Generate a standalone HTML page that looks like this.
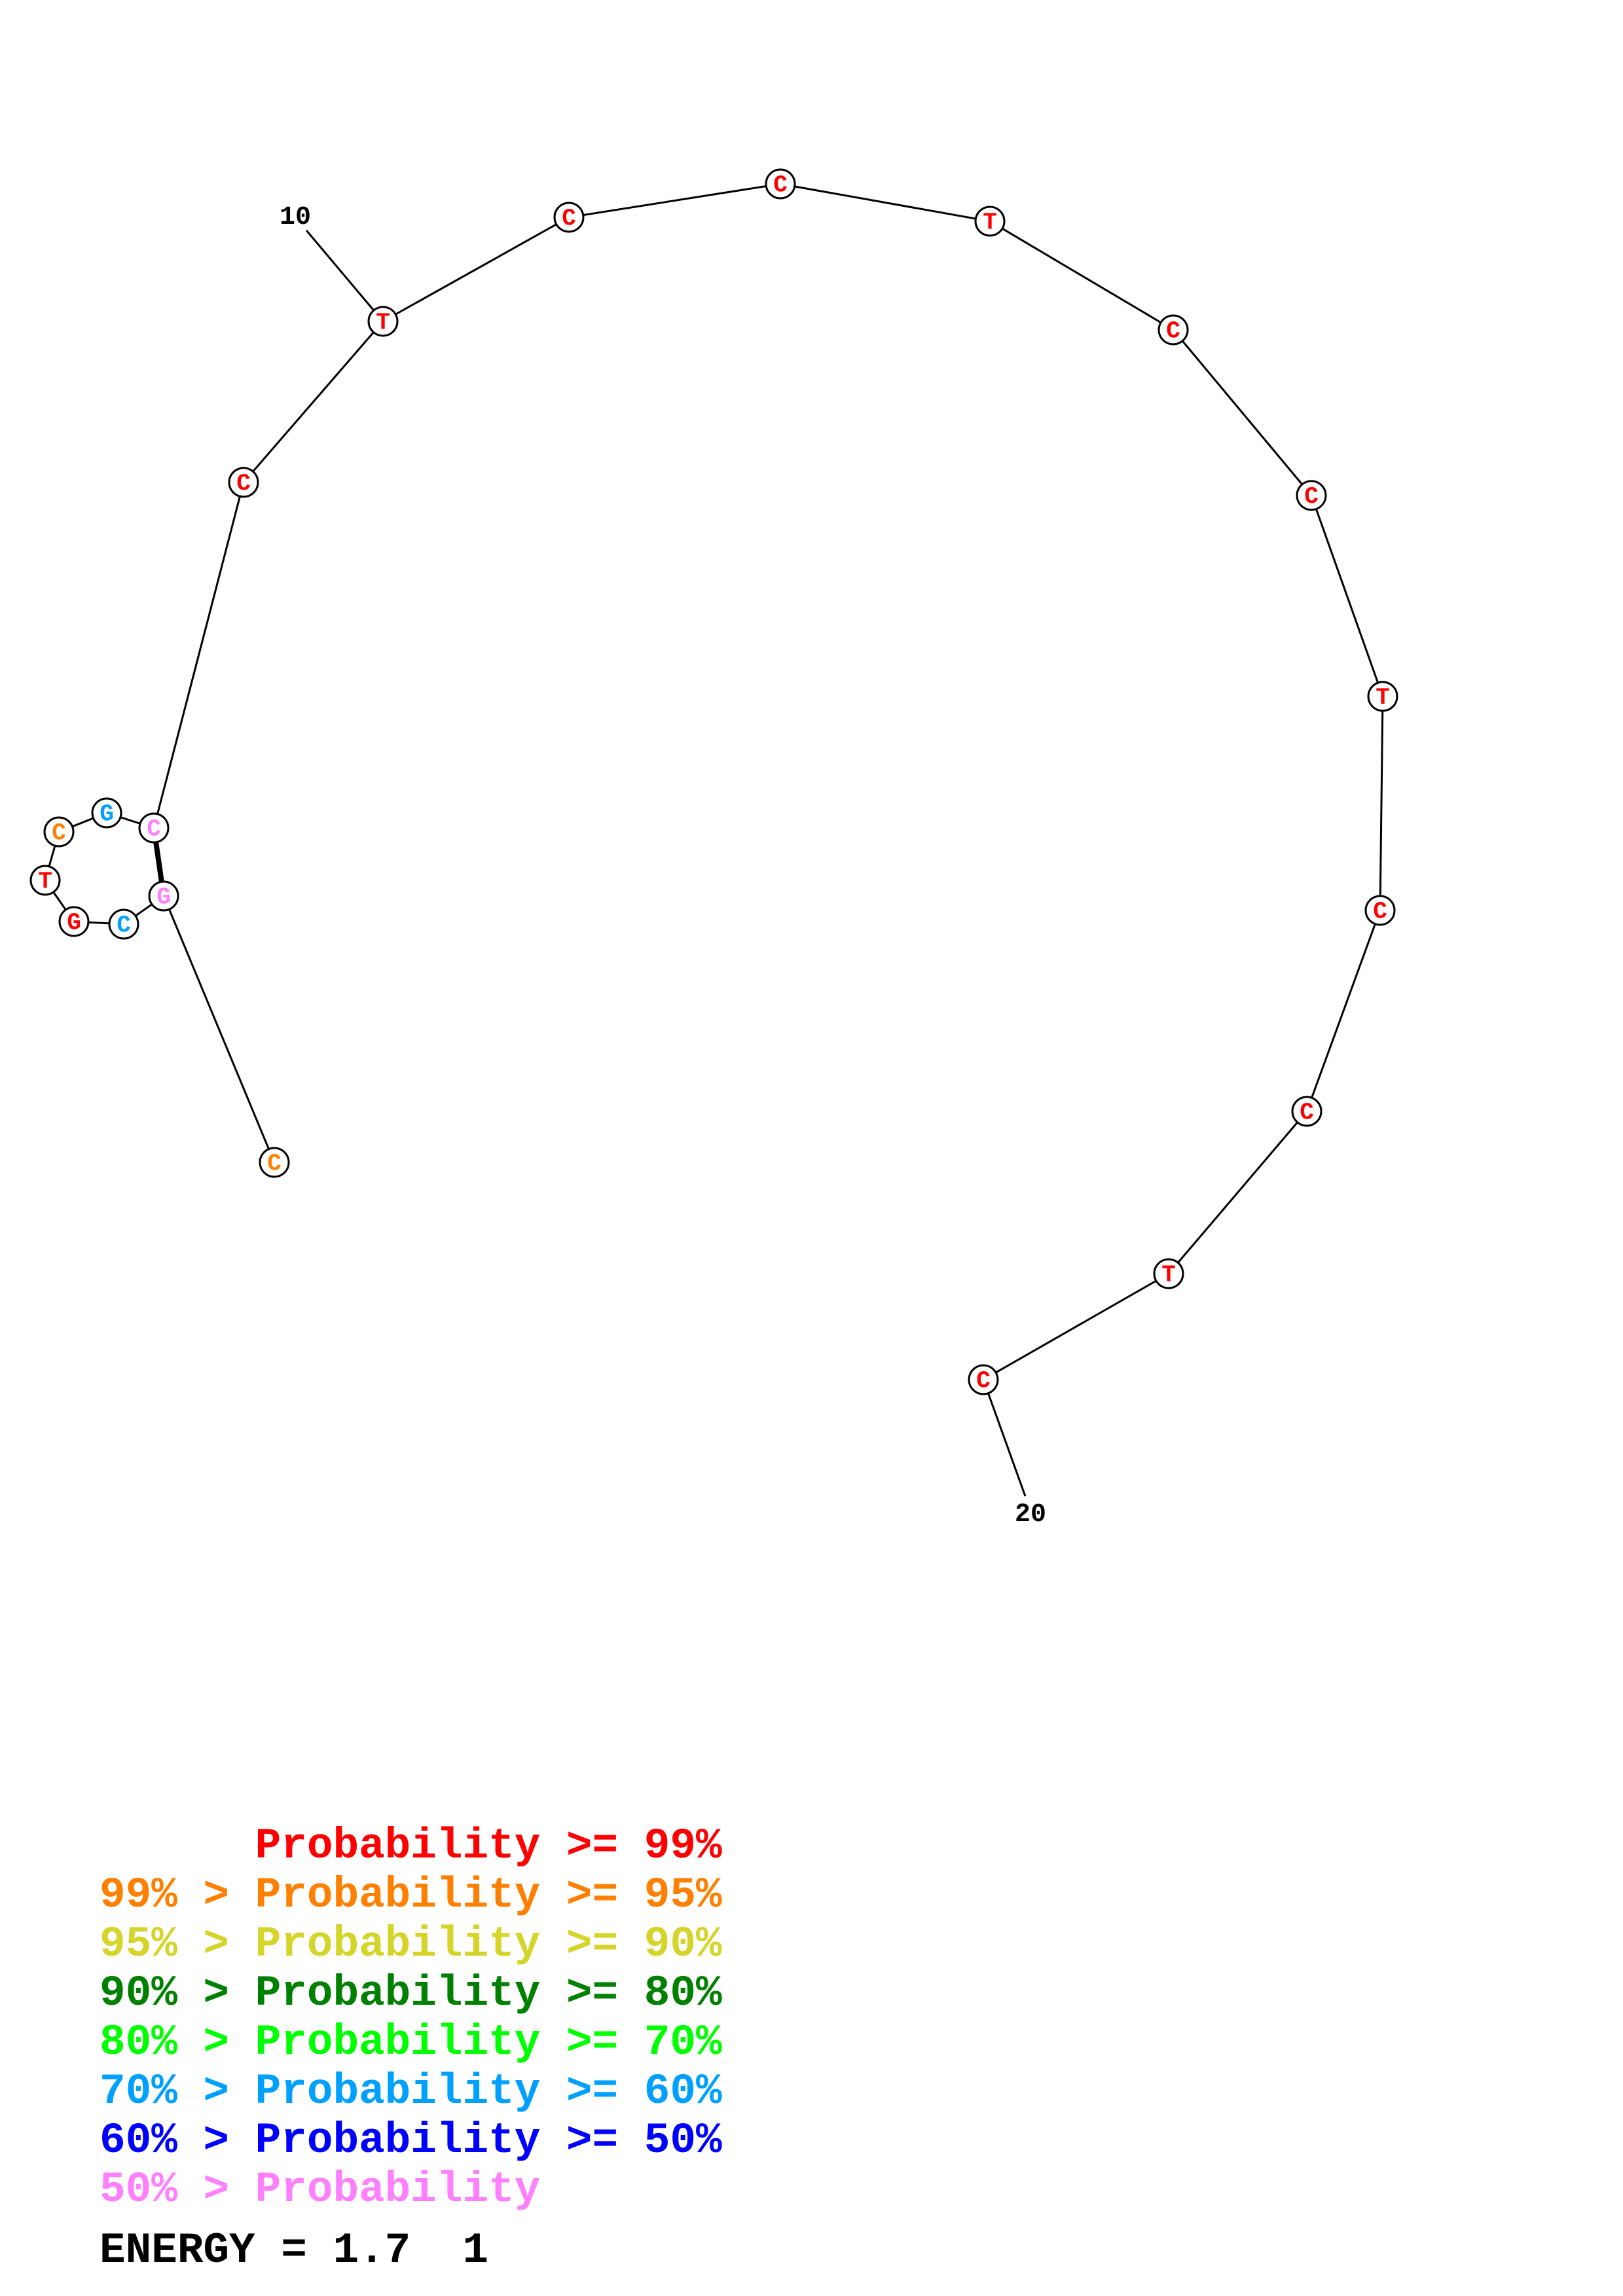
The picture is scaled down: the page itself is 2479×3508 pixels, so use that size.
<!DOCTYPE html>
<html><head><meta charset="utf-8"><style>
html,body{margin:0;padding:0;background:#fff}
svg{display:block}
.n{font-family:"Liberation Mono",monospace;font-weight:bold;font-size:36px;text-anchor:middle;dominant-baseline:central}
.l text{font-family:"Liberation Mono",monospace;font-weight:bold;font-size:66px;white-space:pre}
</style></head><body>
<svg width="2479" height="3508" viewBox="0 0 2479 3508" xmlns="http://www.w3.org/2000/svg">
<g stroke="#000" stroke-width="3" fill="none">
<polyline points="419,1776 250,1369 189,1412 113,1408 69,1345 90,1271 163,1242 235,1265 372,737 585,491 869,332 1192,281 1512,338 1792,504 2003,757 2112,1064 2108,1391 1996,1698 1785,1946 1502,2108 1566,2286"/>
<line x1="585" y1="491" x2="468" y2="352"/>
<line x1="235" y1="1265" x2="250" y2="1369" stroke-width="8"/>
</g>
<g stroke="#000" stroke-width="3" fill="#fff">
<circle cx="419" cy="1776" r="22"/><circle cx="250" cy="1369" r="22"/><circle cx="189" cy="1412" r="22"/>
<circle cx="113" cy="1408" r="22"/><circle cx="69" cy="1345" r="22"/><circle cx="90" cy="1271" r="22"/>
<circle cx="163" cy="1242" r="22"/><circle cx="235" cy="1265" r="22"/><circle cx="372" cy="737" r="22"/>
<circle cx="585" cy="491" r="22"/><circle cx="869" cy="332" r="22"/><circle cx="1192" cy="281" r="22"/>
<circle cx="1512" cy="338" r="22"/><circle cx="1792" cy="504" r="22"/><circle cx="2003" cy="757" r="22"/>
<circle cx="2112" cy="1064" r="22"/><circle cx="2108" cy="1391" r="22"/><circle cx="1996" cy="1698" r="22"/>
<circle cx="1785" cy="1946" r="22"/><circle cx="1502" cy="2108" r="22"/>
</g>
<g class="n">
<text x="419" y="1778" fill="#ff8000">C</text>
<text x="250" y="1371" fill="#ff80ff">G</text>
<text x="189" y="1414" fill="#00a0ff">C</text>
<text x="113" y="1410" fill="#ff0000">G</text>
<text x="69" y="1347" fill="#ff0000">T</text>
<text x="90" y="1273" fill="#ff8000">C</text>
<text x="163" y="1244" fill="#00a0ff">G</text>
<text x="235" y="1267" fill="#ff80ff">C</text>
<text x="372" y="739" fill="#ff0000">C</text>
<text x="585" y="493" fill="#ff0000">T</text>
<text x="869" y="334" fill="#ff0000">C</text>
<text x="1192" y="283" fill="#ff0000">C</text>
<text x="1512" y="340" fill="#ff0000">T</text>
<text x="1792" y="506" fill="#ff0000">C</text>
<text x="2003" y="759" fill="#ff0000">C</text>
<text x="2112" y="1066" fill="#ff0000">T</text>
<text x="2108" y="1393" fill="#ff0000">C</text>
<text x="1996" y="1700" fill="#ff0000">C</text>
<text x="1785" y="1948" fill="#ff0000">T</text>
<text x="1502" y="2110" fill="#ff0000">C</text>
</g>
<g font-family="Liberation Mono, monospace" font-weight="bold" font-size="40" text-anchor="middle">
<text x="451" y="342">10</text>
<text x="1574" y="2324">20</text>
</g>
<g class="l">
<text xml:space="preserve" x="152" y="2838" fill="#ff0000">      Probability &gt;= 99%</text>
<text xml:space="preserve" x="152" y="2913" fill="#ff8000">99% &gt; Probability &gt;= 95%</text>
<text xml:space="preserve" x="152" y="2988" fill="#d4d42a">95% &gt; Probability &gt;= 90%</text>
<text xml:space="preserve" x="152" y="3063" fill="#008000">90% &gt; Probability &gt;= 80%</text>
<text xml:space="preserve" x="152" y="3138" fill="#00ff00">80% &gt; Probability &gt;= 70%</text>
<text xml:space="preserve" x="152" y="3213" fill="#00a0ff">70% &gt; Probability &gt;= 60%</text>
<text xml:space="preserve" x="152" y="3288" fill="#0000ff">60% &gt; Probability &gt;= 50%</text>
<text xml:space="preserve" x="152" y="3363" fill="#ff80ff">50% &gt; Probability</text>
<text xml:space="preserve" x="152" y="3456" fill="#000">ENERGY = 1.7  1</text>
</g>
</svg>
</body></html>
